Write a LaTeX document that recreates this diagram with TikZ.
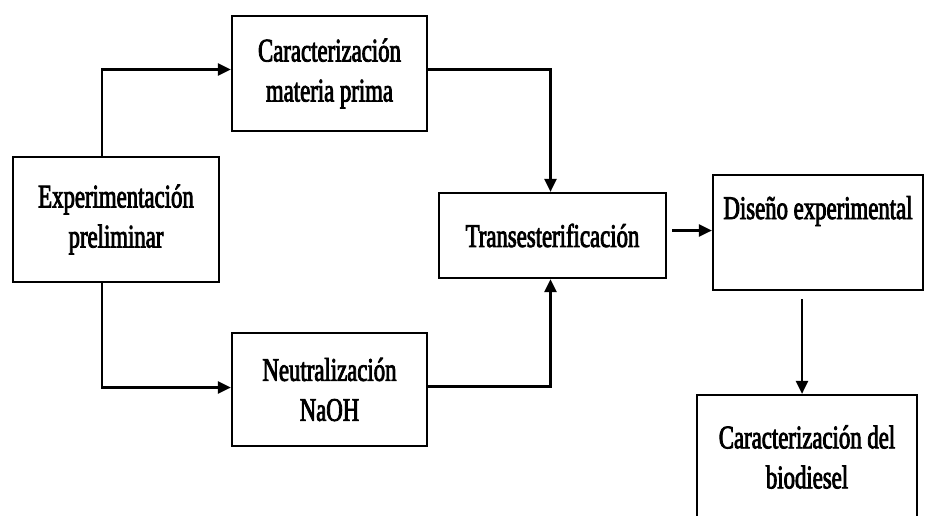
\documentclass[tikz,border=0pt]{standalone}
\usepackage{fontspec}
\setmainfont{Liberation Serif}[FakeStretch=0.69,FakeBold=2.5]
\usetikzlibrary{arrows.meta}
\begin{document}
\begin{tikzpicture}[x=1pt,y=-1pt,
  box/.style={draw=black, line width=2.2pt, rectangle, inner sep=0pt, align=center,
    font=\fontsize{33}{40}\selectfont},
  txt/.style={inner sep=0pt, align=center, font=\fontsize{33}{40}\selectfont},
  arr/.style={draw=black, line width=2.4pt, -{Triangle[length=13pt,width=12pt]}}]
\useasboundingbox (0,0) rectangle (925,515);
\fill[white] (0,0) rectangle (925,515);
\clip (0,0) rectangle (925,515);
\node[box, minimum width=206pt, minimum height=125pt] (exp) at (116,219.5)
  {Experimentación\\preliminar};
\node[box, minimum width=195pt, minimum height=115pt] (car) at (329.5,73.5)
  {Caracterización\\materia prima};
\node[box, minimum width=195pt, minimum height=113pt] (neu) at (329.5,389.5)
  {Neutralización\\NaOH};
\node[box, minimum width=227pt, minimum height=85pt] (tr) at (552.5,235.5)
  {Transesterificación};
\node[box, minimum width=210pt, minimum height=115pt] (dis) at (818,232.5) {};
\node[txt, anchor=north] (dist) at ([yshift=-22pt]dis.north) {Diseño experimental};
\node[box, minimum width=220pt, minimum height=124pt] (bio) at (807,457)
  {Caracterización del\\biodiesel};
\draw[arr] ([xshift=-14pt]exp.north) |- ([yshift=4pt]car.west);
\draw[arr] ([xshift=-14pt]exp.south) |- ([yshift=2pt]neu.west);
\draw[arr] ([yshift=4pt]car.east) -| ([xshift=-2pt]tr.north);
\draw[arr] ([yshift=3pt]neu.east) -| ([xshift=-2pt]tr.south);
\coordinate (ts) at ([xshift=5pt,yshift=5pt]tr.east);
\draw[arr] (ts) -- (ts -| dis.west);
\draw[arr] ([xshift=-16pt,yshift=-8pt]dis.south) -- ([xshift=-16pt]dis.south |- bio.north);
\end{tikzpicture}
\end{document}
